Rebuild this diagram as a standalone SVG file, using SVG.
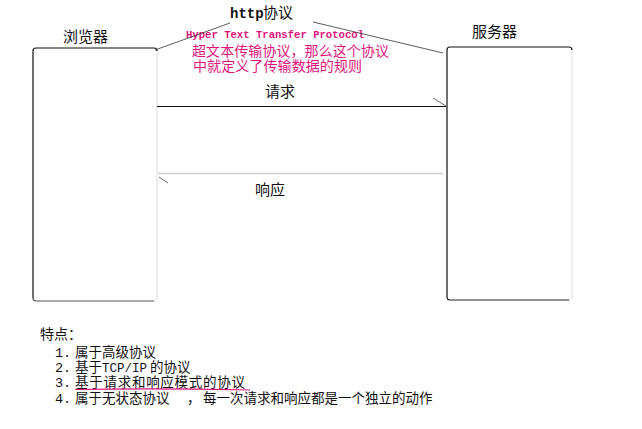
<svg xmlns="http://www.w3.org/2000/svg" width="642" height="429" viewBox="0 0 642 429">
<style>
.cjk{font-family:"Liberation Serif","Noto Sans CJK SC",serif;fill:#111}
.lbl{font-size:15px}
.pink{fill:#e0147d}
.mono{font-family:"Liberation Mono","Noto Sans CJK SC",monospace}
.list{font-size:13.5px}
.thin{stroke:#333;stroke-width:0.8;fill:none}
</style>
<rect width="642" height="429" fill="#fff"/>
<g id="browser">
<path d="M157,49 V298 Q157,301 154,301" stroke="#ddd" stroke-width="1" fill="none"/>
<path d="M33,298 V51 Q33,48 36,48 H154 Q157,48 157,51" stroke="#111" stroke-width="1.2" fill="none"/>
<path d="M33,298 Q33,301 36,301 H154" stroke="#555" stroke-width="1.2" fill="none"/>
<text class="cjk lbl" x="63" y="42">浏览器</text>
</g>
<g id="server">
<path d="M572,50 V297 Q572,300 569,300" stroke="#ddd" stroke-width="1" fill="none"/>
<path d="M447,297 V50 Q447,47 450,47 H569 Q572,47 572,50" stroke="#111" stroke-width="1.2" fill="none"/>
<path d="M447,297 Q447,300 450,300 H569" stroke="#222" stroke-width="1.2" fill="none"/>
<text class="cjk lbl" x="472" y="37">服务器</text>
</g>
<g id="protocol">
<text class="cjk lbl" y="18"><tspan class="mono" x="230" font-size="14" font-weight="bold">http</tspan><tspan x="263">协议</tspan></text>
<text class="mono pink" x="186" y="38" font-size="10.6" font-weight="bold" textLength="178">Hyper Text Transfer Protocol</text>
<text class="cjk pink" x="192" y="56" font-size="14" textLength="197">超文本传输协议，那么这个协议</text>
<text class="cjk pink" x="193" y="71" font-size="14" textLength="169">中就定义了传输数据的规则</text>
</g>
<g id="connectors">
<line class="thin" x1="155" y1="50" x2="230" y2="23"/>
<line class="thin" x1="313" y1="22" x2="443" y2="53"/>
<line x1="157" y1="106.5" x2="446" y2="106.5" stroke="#111" stroke-width="1.2"/>
<line x1="433" y1="98" x2="446" y2="106" stroke="#444" stroke-width="0.8"/>
<line x1="158" y1="173.5" x2="443" y2="173.5" stroke="#ccc" stroke-width="1.5"/>
<line x1="159" y1="177" x2="168" y2="183" stroke="#444" stroke-width="0.8"/>
<text class="cjk lbl" x="265" y="97">请求</text>
<text class="cjk lbl" x="255" y="195">响应</text>
</g>
<g id="features">
<text class="cjk" x="40" y="339" font-size="14">特点：</text>
<text class="cjk list" y="357"><tspan class="mono" x="55">1.</tspan><tspan x="75">属于高级协议</tspan></text>
<text class="cjk list" y="372"><tspan class="mono" x="55">2.</tspan><tspan x="75">基于</tspan><tspan class="mono" x="102" font-size="12.5">TCP/IP</tspan><tspan x="150">的协议</tspan></text>
<text class="cjk list" y="387"><tspan class="mono" x="55">3.</tspan><tspan x="75" textLength="170">基于请求和响应模式的协议</tspan></text>
<path d="M75,389.5 Q160,388 250,390" stroke="#e0147d" stroke-width="1.2" fill="none"/>
<text class="cjk list" y="403"><tspan class="mono" x="55">4.</tspan><tspan x="75">属于无状态协议</tspan><tspan x="187">，</tspan><tspan x="203">每一次请求和响应都是一个独立的动作</tspan></text>
</g>
</svg>
